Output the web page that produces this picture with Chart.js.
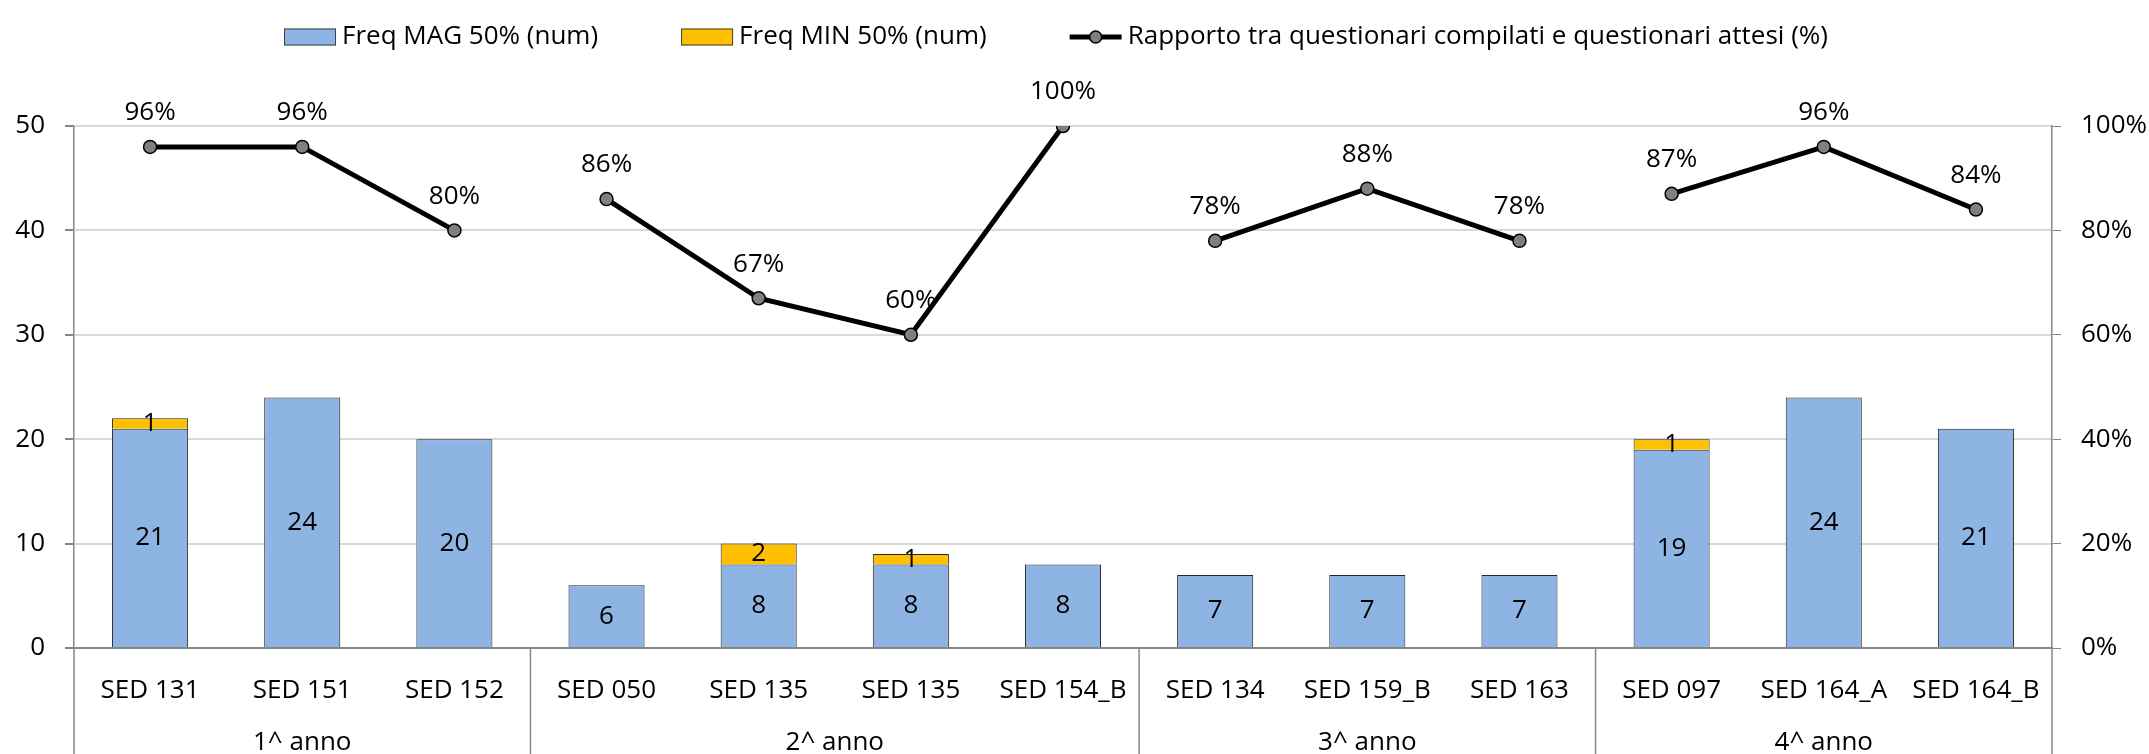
<!DOCTYPE html>
<html>
<head>
<meta charset="utf-8">
<script src="https://cdn.jsdelivr.net/npm/chart.js@4.4.0/dist/chart.umd.min.js"></script>
<style>
  html, body { margin: 0; padding: 0; background: #fff; }
</style>
</head>
<body>
<canvas id="newChart" width="2149" height="754"></canvas>
<script>
// Chart data
const categories = ['SED 131', 'SED 151', 'SED 152', 'SED 050', 'SED 135', 'SED 135', 'SED 154_B',
  'SED 134', 'SED 159_B', 'SED 163', 'SED 097', 'SED 164_A', 'SED 164_B'];
const groupNames = ['1^ anno', '2^ anno', '3^ anno', '4^ anno'];
const groupSizes = [3, 4, 3, 3];
const freqMag = [21, 24, 20, 6, 8, 8, 8, 7, 7, 7, 19, 24, 21];
const freqMin = [1, 0, 0, 0, 2, 1, 0, 0, 0, 0, 1, 0, 0];
const rapporto = [96, 96, 80, 86, 67, 60, 100, 78, 88, 78, 87, 96, 84];
const leftTicks = [0, 10, 20, 30, 40, 50];
const rightTicks = [0, 20, 40, 60, 80, 100];

const FONT = '"Open Sans", "Liberation Sans", sans-serif';
const FONT_SIZE = 26;
const AXIS_GRAY = '#868686';

// indices where a new group starts (line is broken there)
let groupStarts = new Set();
let acc = 0;
groupSizes.forEach(function(size) {
  if (acc > 0) groupStarts.add(acc);
  acc += size;
});

// labels on bars and points
const valueLabels = {
  id: 'valueLabels',
  afterDatasetsDraw(chart) {
    const ctx = chart.ctx;
    ctx.save();
    ctx.font = FONT_SIZE + 'px ' + FONT;
    ctx.fillStyle = '#000';
    ctx.textAlign = 'center';
    ctx.textBaseline = 'middle';
    chart.data.datasets.forEach(function(ds, di) {
      const meta = chart.getDatasetMeta(di);
      meta.data.forEach(function(el, i) {
        const v = ds.data[i];
        if (!v) return;
        if (ds.type === 'line') {
          ctx.fillText(v + '%', el.x, el.y - 34);
        } else {
          ctx.fillText(String(v), el.x, (el.y + el.base) / 2);
        }
      });
    });
    ctx.restore();
  }
};

// second level of the category axis
const groupAxis = {
  id: 'groupAxis',
  afterDraw(chart) {
    const ctx = chart.ctx;
    const x = chart.scales.x;
    const half = (x.getPixelForValue(1) - x.getPixelForValue(0)) / 2;
    const bottom = chart.chartArea.bottom;
    ctx.save();
    ctx.strokeStyle = AXIS_GRAY;
    ctx.lineWidth = 1.5;
    ctx.font = FONT_SIZE + 'px ' + FONT;
    ctx.fillStyle = '#000';
    ctx.textAlign = 'center';
    ctx.textBaseline = 'alphabetic';
    let start = 0;
    groupSizes.forEach(function(size, g) {
      const left = x.getPixelForValue(start) - half;
      const right = x.getPixelForValue(start + size - 1) + half;
      ctx.beginPath();
      ctx.moveTo(left, bottom);
      ctx.lineTo(left, chart.height);
      ctx.stroke();
      if (g === groupSizes.length - 1) {
        ctx.beginPath();
        ctx.moveTo(right, bottom);
        ctx.lineTo(right, chart.height);
        ctx.stroke();
      }
      ctx.fillText(groupNames[g], (left + right) / 2, 750);
      start += size;
    });
    ctx.restore();
  }
};

// legend drawn like the office one
const topLegend = {
  id: 'topLegend',
  afterDraw(chart) {
    const ctx = chart.ctx;
    ctx.save();
    ctx.font = FONT_SIZE + 'px ' + FONT;
    ctx.textBaseline = 'middle';
    ctx.textAlign = 'left';
    const sw = 52, gap = 6, itemGap = 83, cy = 37;
    const items = [chart.data.datasets[1], chart.data.datasets[2], chart.data.datasets[0]];
    let total = 0;
    items.forEach(function(ds, i) {
      total += sw + gap + ctx.measureText(ds.label).width;
      if (i > 0) total += itemGap;
    });
    let x = 1056 - total / 2;
    items.forEach(function(ds) {
      if (ds.type === 'line') {
        ctx.strokeStyle = '#000';
        ctx.lineWidth = 5;
        ctx.beginPath();
        ctx.moveTo(x, cy);
        ctx.lineTo(x + sw, cy);
        ctx.stroke();
        ctx.beginPath();
        ctx.arc(x + sw / 2, cy, 6, 0, Math.PI * 2);
        ctx.fillStyle = '#808080';
        ctx.fill();
        ctx.lineWidth = 1.5;
        ctx.stroke();
      } else {
        ctx.fillStyle = ds.backgroundColor;
        ctx.fillRect(x, cy - 8.5, sw, 17);
        ctx.strokeStyle = '#404040';
        ctx.lineWidth = 1;
        ctx.strokeRect(x + 0.5, cy - 8, sw - 1, 16);
      }
      x += sw + gap;
      ctx.fillStyle = '#000';
      ctx.fillText(ds.label, x, cy);
      x += ctx.measureText(ds.label).width + itemGap;
    });
    ctx.restore();
  }
};

const ctx = document.getElementById('newChart').getContext('2d');

new Chart(ctx, {
  type: 'bar',
  data: {
    labels: categories,
    datasets: [
      {
        type: 'line',
        label: 'Rapporto tra questionari compilati e questionari attesi (%)',
        data: rapporto,
        yAxisID: 'y1',
        order: 0,
        borderColor: '#000',
        borderWidth: 5,
        pointRadius: 6.5,
        pointBackgroundColor: '#808080',
        pointBorderColor: '#000',
        pointBorderWidth: 1.5,
        segment: {
          borderColor: function(c) {
            return groupStarts.has(c.p1DataIndex) ? 'rgba(0,0,0,0)' : '#000';
          }
        }
      },
      {
        label: 'Freq MAG 50% (num)',
        data: freqMag,
        backgroundColor: '#8EB4E3',
        borderColor: '#262626',
        borderWidth: 1,
        order: 1
      },
      {
        label: 'Freq MIN 50% (num)',
        data: freqMin,
        backgroundColor: '#FFC000',
        borderColor: '#262626',
        borderWidth: function(c) { return c.raw ? 1 : 0; },
        order: 1
      }
    ]
  },
  options: {
    responsive: false,
    animation: false,
    devicePixelRatio: 1,
    layout: { padding: { top: 126, left: 0, right: 0, bottom: 0 } },
    datasets: {
      bar: { barPercentage: 0.5, categoryPercentage: 1 }
    },
    plugins: {
      legend: { display: false },
      tooltip: { enabled: false }
    },
    scales: {
      x: {
        stacked: true,
        grid: { display: false },
        border: { display: true, color: AXIS_GRAY, width: 2 },
        ticks: {
          color: '#000',
          font: { family: FONT, size: FONT_SIZE },
          padding: 19,
          maxRotation: 0,
          autoSkip: false
        },
        afterFit: function(scale) { scale.height = 106; }
      },
      y: {
        stacked: true,
        position: 'left',
        min: leftTicks[0],
        max: leftTicks[leftTicks.length - 1],
        afterBuildTicks: function(scale) {
          scale.ticks = leftTicks.map(function(v) { return { value: v }; });
        },
        grid: { color: '#d9d9d9', lineWidth: 2, tickLength: 9, tickColor: AXIS_GRAY },
        border: { display: true, color: AXIS_GRAY, width: 1.5 },
        ticks: {
          color: '#000',
          font: { family: FONT, size: FONT_SIZE },
          padding: 20
        },
        afterFit: function(scale) { scale.width = 74; }
      },
      y1: {
        position: 'right',
        min: rightTicks[0],
        max: rightTicks[rightTicks.length - 1],
        afterBuildTicks: function(scale) {
          scale.ticks = rightTicks.map(function(v) { return { value: v }; });
        },
        grid: { drawOnChartArea: false, tickLength: 9, tickColor: AXIS_GRAY },
        border: { display: true, color: AXIS_GRAY, width: 1.5 },
        ticks: {
          color: '#000',
          font: { family: FONT, size: FONT_SIZE },
          padding: 20,
          callback: function(v) { return v + '%'; }
        },
        afterFit: function(scale) { scale.width = 97; }
      }
    }
  },
  plugins: [valueLabels, groupAxis, topLegend]
});
</script>
</body>
</html>
